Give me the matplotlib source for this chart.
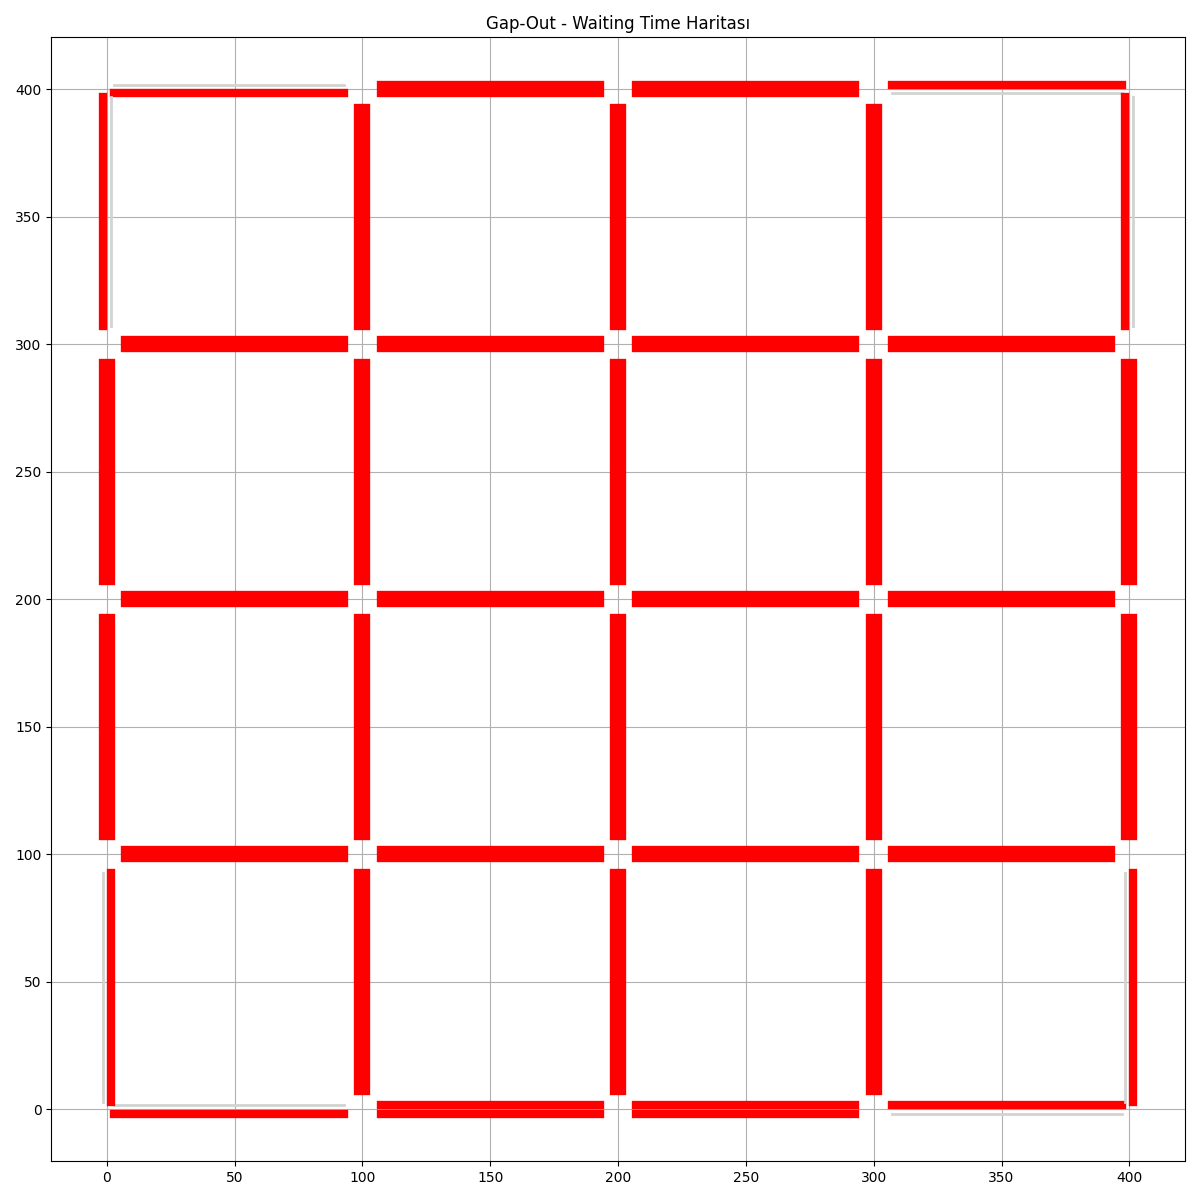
import matplotlib.pyplot as plt

# junction coordinates of the 5x5 grid
nodes = [0, 100, 200, 300, 400]

# waiting flag per lane: 1 = vehicles waited (red), 0 = none (gray)
# horizontal roads: row = y level (0..400), column = segment (0-100 ... 300-400)
east_wait = [
    [1, 1, 1, 0],
    [1, 1, 1, 1],
    [1, 1, 1, 1],
    [1, 1, 1, 1],
    [1, 1, 1, 0],
]
west_wait = [
    [0, 1, 1, 1],
    [1, 1, 1, 1],
    [1, 1, 1, 1],
    [1, 1, 1, 1],
    [0, 1, 1, 1],
]
# vertical roads: row = x level (0..400), column = segment (0-100 ... 300-400)
north_wait = [
    [1, 1, 1, 0],
    [1, 1, 1, 1],
    [1, 1, 1, 1],
    [1, 1, 1, 1],
    [1, 1, 1, 0],
]
south_wait = [
    [0, 1, 1, 1],
    [1, 1, 1, 1],
    [1, 1, 1, 1],
    [1, 1, 1, 1],
    [0, 1, 1, 1],
]

LANE_OFF = 1.6


def junction_r(x, y):
    corner = x in (nodes[0], nodes[-1]) and y in (nodes[0], nodes[-1])
    return 3.0 if corner else 7.2


def draw_lane(ax, x0, y0, x1, y1, wait):
    if wait:
        ax.plot([x0, x1], [y0, y1], color='red', linewidth=6)
    else:
        ax.plot([x0, x1], [y0, y1], color='lightgray', linewidth=2)


fig, ax = plt.subplots(figsize=(12, 12))

for i, y in enumerate(nodes):
    for j in range(len(nodes) - 1):
        xa, xb = nodes[j], nodes[j + 1]
        ra, rb = junction_r(xa, y), junction_r(xb, y)
        draw_lane(ax, xa + ra, y - LANE_OFF, xb - rb, y - LANE_OFF, east_wait[i][j])
        draw_lane(ax, xb - rb, y + LANE_OFF, xa + ra, y + LANE_OFF, west_wait[i][j])

for i, x in enumerate(nodes):
    for j in range(len(nodes) - 1):
        ya, yb = nodes[j], nodes[j + 1]
        ra, rb = junction_r(x, ya), junction_r(x, yb)
        draw_lane(ax, x + LANE_OFF, ya + ra, x + LANE_OFF, yb - rb, north_wait[i][j])
        draw_lane(ax, x - LANE_OFF, yb - rb, x - LANE_OFF, ya + ra, south_wait[i][j])

ax.set_title("Gap-Out - Waiting Time Haritası")
ax.grid(True)
ax.axis('equal')
plt.tight_layout()
plt.savefig('out.png', dpi=100)
